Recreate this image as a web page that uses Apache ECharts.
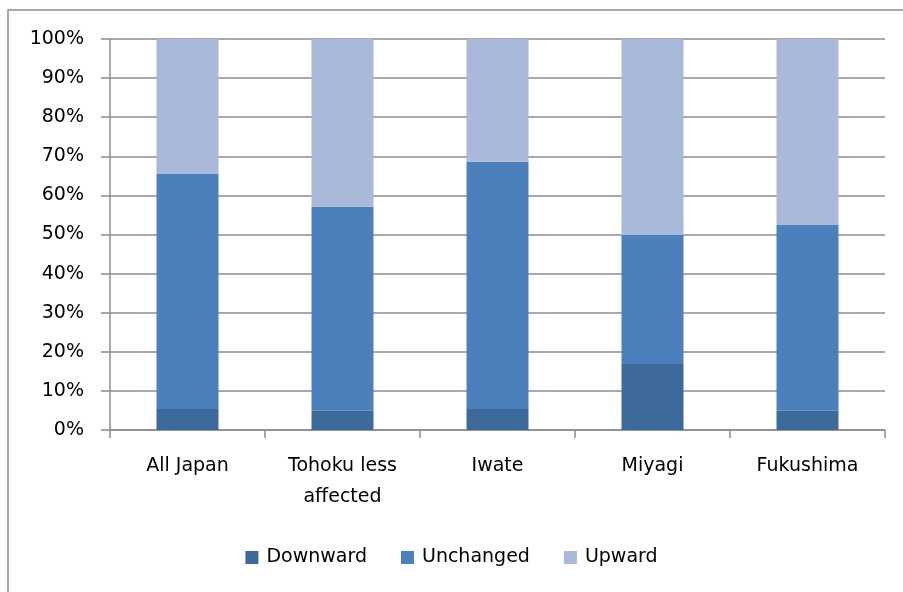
<!DOCTYPE html>
<html>
<head>
<meta charset="utf-8">
<script src="https://cdn.jsdelivr.net/npm/echarts@6/dist/echarts.min.js"></script>
<style>
  html, body { margin: 0; padding: 0; background: #fff; }
  #chart { width: 903px; height: 592px; }
</style>
</head>
<body>
<div id="chart"></div>
<script>
var categories = ['All Japan', 'Tohoku less\naffected', 'Iwate', 'Miyagi', 'Fukushima'];
var downward = [5.4, 4.9, 5.4, 16.9, 4.9];
var unchanged = [60.1, 52.2, 63.2, 33.0, 47.5];
var upward = [34.5, 42.9, 31.4, 50.1, 47.6];

var font = 'DejaVu Sans';
var myChart = echarts.init(document.getElementById('chart'));

function bar(name, data, color) {
    return {
        name: name,
        type: 'bar',
        stack: 'total',
        barWidth: 62,
        data: data,
        itemStyle: { color: color },
        emphasis: { disabled: true }
    };
}

var option = {
    animation: false,
    graphic: [{
        type: 'rect',
        shape: { x: 8, y: 10, width: 920, height: 620 },
        style: { fill: 'none', stroke: '#8a8a8a', lineWidth: 1.5 },
        silent: true
    }],
    grid: { left: 110, right: 18, top: 39, bottom: 162 },
    legend: {
        top: 543,
        left: 'center',
        itemWidth: 13,
        itemHeight: 13,
        itemGap: 34,
        icon: 'rect',
        textStyle: { fontFamily: font, fontSize: 19, color: '#000', padding: [0, 0, 0, 3] },
        data: ['Downward', 'Unchanged', 'Upward']
    },
    xAxis: {
        type: 'category',
        data: categories,
        axisLine: { lineStyle: { color: '#8c8c8c', width: 1.5 } },
        axisTick: { show: true, length: 8, lineStyle: { color: '#8c8c8c', width: 1.5 } },
        axisLabel: {
            fontFamily: font, fontSize: 19, color: '#000',
            lineHeight: 31, margin: 21, interval: 0
        }
    },
    yAxis: {
        type: 'value',
        min: 0,
        max: 100,
        interval: 10,
        axisLine: { show: true, lineStyle: { color: '#8c8c8c', width: 1.5 } },
        axisTick: { show: true, length: 9, lineStyle: { color: '#8c8c8c', width: 1.5 } },
        splitLine: { lineStyle: { color: '#8c8c8c', width: 1.5 } },
        axisLabel: {
            fontFamily: font, fontSize: 19, color: '#000', margin: 26,
            formatter: '{value}%'
        }
    },
    series: [
        bar('Downward', downward, '#3e699b'),
        bar('Unchanged', unchanged, '#4c80bd'),
        bar('Upward', upward, '#a8b9d9')
    ]
};
myChart.setOption(option);
window.addEventListener('resize', function () {
    myChart.resize();
});
</script>
</body>
</html>
